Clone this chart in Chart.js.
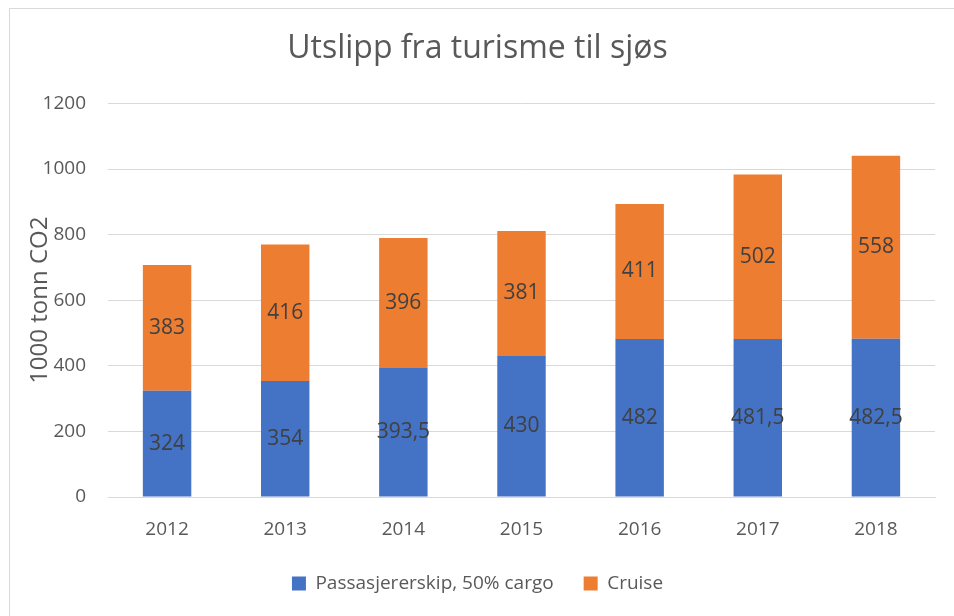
<!DOCTYPE html>
<html>
<head>
<meta charset="utf-8">
<script src="https://cdn.jsdelivr.net/npm/chart.js@4/dist/chart.umd.min.js"></script>
<style>
  html, body { margin: 0; padding: 0; background: #fff; }
  #wrap { position: relative; width: 954px; height: 616px; }
</style>
</head>
<body>
<div id="wrap"><canvas id="c" width="954" height="616"></canvas></div>
<script>
"use strict";
// Utslipp fra turisme til sjøs – stacked columns, values in 1000 tonn CO2
const years = ["2012", "2013", "2014", "2015", "2016", "2017", "2018"];
const passasjer = [324, 354, 393.5, 430, 482, 481.5, 482.5];
const cruise = [383, 416, 396, 381, 411, 502, 558];
const yTicks = [0, 200, 400, 600, 800, 1000, 1200];

const ink = "#595959", grid = "#d9d9d9";
const FONT = "'Open Sans', 'Liberation Sans', sans-serif";
const fmt = (v) => String(v).replace(".", ",");

// labels centered in each stacked segment
const segLabels = {
  id: "segLabels",
  afterDatasetsDraw(chart) {
    const ctx = chart.ctx;
    ctx.save();
    ctx.font = "21px " + FONT;
    ctx.fillStyle = "#404040";
    ctx.textAlign = "center";
    ctx.textBaseline = "middle";
    chart.data.datasets.forEach((ds, i) => {
      chart.getDatasetMeta(i).data.forEach((bar, j) => {
        const mid = (bar.y + bar.base) / 2;
        ctx.fillText(fmt(ds.data[j]), bar.x, mid);
      });
    });
    ctx.restore();
  }
};

// thin frame like the spreadsheet chart border
const frame = {
  id: "frame",
  beforeDraw(chart) {
    const ctx = chart.ctx;
    ctx.save();
    ctx.strokeStyle = "#d9d9d9";
    ctx.lineWidth = 1;
    ctx.beginPath();
    ctx.moveTo(9.5, 616); ctx.lineTo(9.5, 8.5); ctx.lineTo(954, 8.5);
    ctx.stroke();
    ctx.restore();
  }
};

new Chart(document.getElementById("c"), {
  type: "bar",
  data: {
    labels: years,
    datasets: [
      { label: "Passasjererskip, 50% cargo", data: passasjer, backgroundColor: "#4472c4" },
      { label: "Cruise", data: cruise, backgroundColor: "#ed7d31" }
    ]
  },
  options: {
    responsive: false, animation: false,
    devicePixelRatio: 1,
    layout: { padding: { left: 20, right: 19, top: 0, bottom: 13 } },
    datasets: { bar: { barPercentage: 0.41, categoryPercentage: 1 } },
    plugins: {
      title: { display: true, text: "Utslipp fra turisme til sjøs", color: ink,
        font: { family: FONT, size: 32, weight: "normal" }, padding: { top: 30, bottom: 35 } },
      legend: { position: "bottom",
        labels: { color: ink, font: { family: FONT, size: 19 }, boxWidth: 14, boxHeight: 14, padding: 30 } },
      tooltip: { enabled: false }
    },
    scales: {
      x: { stacked: true,
        afterFit: (s) => { s.height = 47; },
        grid: { display: false },
        border: { color: grid },
        ticks: { color: ink, font: { family: FONT, size: 19 }, padding: 13 } },
      y: { stacked: true, min: 0, max: 1200,
        afterFit: (s) => { s.width = 88; },
        afterBuildTicks: (s) => { s.ticks = yTicks.map(v => ({ value: v })); },
        grid: { color: grid, drawTicks: false },
        border: { display: false },
        title: { display: true, text: "1000 tonn CO2", color: ink, font: { family: FONT, size: 24 }, padding: { top: 6, bottom: 0 } },
        ticks: { color: ink, font: { family: FONT, size: 19 }, padding: 22, callback: (v) => String(v) } }
    }
  },
  plugins: [frame, segLabels]
});
</script>
</body>
</html>
